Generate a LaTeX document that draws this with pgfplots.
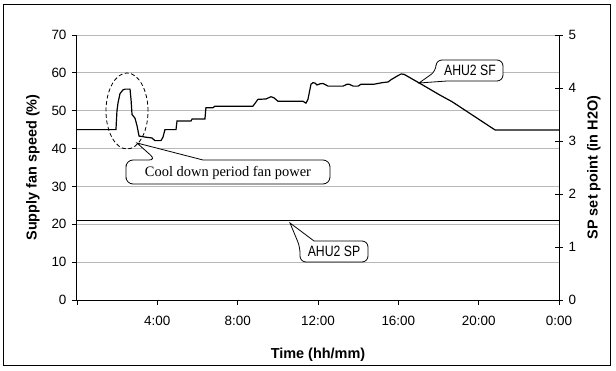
\documentclass[border=0pt]{standalone}
\usepackage{pgfplots}
\pgfplotsset{compat=1.18}
\usepackage{graphicx}
\usepackage{fontspec}
\setmainfont{Liberation Sans}
\newfontfamily\calloutserif{Liberation Serif}

% supply fan speed of AHU2 over one day (hours, %)
\pgfplotstableread{
t     sf
0.00  45.0
1.94  45.0
1.99  50.0
2.04  52.0
2.14  54.5
2.29  55.5
2.39  55.7
2.64  55.7
2.69  53.0
2.74  49.0
2.89  48.0
2.99  46.0
3.09  43.3
3.44  43.0
3.73  42.8
3.88  42.1
4.18  42.1
4.28  43.0
4.38  45.0
4.93  45.0
4.98  47.3
5.68  47.3
5.73  47.8
6.37  47.8
6.42  50.8
6.77  50.8
6.87  51.2
8.76  51.2
9.01  53.0
9.41  53.1
9.66  53.7
9.81  53.4
10.01 52.5
11.25 52.5
11.40 52.0
11.50 53.0
11.65 57.0
11.75 57.4
11.85 57.3
11.95 56.8
12.10 57.1
12.25 57.2
12.50 56.5
13.25 56.5
13.45 57.0
13.55 57.0
13.75 56.5
14.00 56.5
14.14 57.0
14.79 57.0
15.19 57.4
15.49 57.6
15.64 58.2
15.99 59.3
16.14 59.7
16.29 59.6
17.08 57.2
18.08 54.1
18.67 52.4
20.82 44.9
24.00 44.9
}\sfdata

% static pressure set point (hours, in H2O)
\pgfplotstableread{
t     sp
0     1.5
24    1.5
}\spdata

\begin{document}
\begin{tikzpicture}
\path[use as bounding box] (-77bp,-71bp) rectangle (539bp,300bp);

\begin{axis}[
  scale only axis, width=482bp, height=265bp,
  xmin=0, xmax=24, ymin=0, ymax=70,
  axis x line*=bottom, axis y line*=left,
  axis line style={line width=1bp, black},
  xtick={0,4,...,24},
  xticklabels={,4:00,8:00,12:00,16:00,20:00,0:00},
  ytick={0,10,...,70},
  ymajorgrids, grid style={black!28, line width=0.8bp},
  tick align=outside, major tick length=5bp,
  tick style={black, line width=0.8bp},
  /pgf/number format/assume math mode=true,
  tick label style={font=\fontsize{13.5}{15}\selectfont},
  xticklabel style={yshift=-8bp},
  yticklabel style={xshift=-2bp},
  xlabel={Time (hh/mm)},
  ylabel={Supply fan speed (\%)},
  every axis x label/.style={at={(axis description cs:0.5,-0.2075)}, anchor=center,
    font=\bfseries\fontsize{14.5}{16}\selectfont},
  every axis y label/.style={at={(axis description cs:-0.0913,0.5)}, rotate=90, anchor=center,
    font=\bfseries\fontsize{14.5}{16}\selectfont},
]
\addplot[black, line width=1.2bp] table[x=t, y=sf] {\sfdata};
\end{axis}

\begin{axis}[
  scale only axis, width=482bp, height=265bp,
  xmin=0, xmax=24, ymin=0, ymax=5,
  axis x line=none, axis y line*=right,
  axis line style={line width=1bp, black},
  ytick={0,1,...,5},
  tick align=center, major tick length=8bp,
  tick style={black, line width=0.8bp},
  /pgf/number format/assume math mode=true,
  tick label style={font=\fontsize{13.5}{15}\selectfont},
  yticklabel style={xshift=2bp},
  ylabel={SP set point (in H2O)},
  every axis y label/.style={at={(axis description cs:1.0726,0.5)}, rotate=90, anchor=center,
    font=\bfseries\fontsize{14.5}{16}\selectfont},
]
\addplot[black, line width=1.2bp] table[x=t, y=sp] {\spdata};
\end{axis}

% callouts and outer frame
\begin{scope}[x=1bp, y=-1bp, shift={(-77bp,300bp)}, line width=0.8bp]
  \draw[dash pattern=on 4bp off 2.5bp] (127,111) ellipse [x radius=21bp, y radius=38bp];
  \draw[fill=white] (126,172) [rounded corners=7bp] -- (126,160) -- (156,160)
      [sharp corners] -- (137,143) -- (203,160)
      [rounded corners=7bp] -- (330,160) -- (330,184) -- (126,184) -- cycle;
  \node[font=\calloutserif\fontsize{14.5}{16}\selectfont] at (228,172.5) {Cool down period fan power};

  \draw[fill=white] (436,71) [sharp corners] -- (419,83) -- (447,81)
      [rounded corners=6bp] -- (503,81) -- (503,60) -- (436,60) -- cycle;
  \node[font=\fontsize{15}{17}\selectfont] at (470,70.5) {\scalebox{0.82}[1]{AHU2 SF}};

  \draw[fill=white] (300,247) [sharp corners] -- (290,223) -- (314,241)
      [rounded corners=6bp] -- (368,241) -- (368,262) -- (300,262) -- cycle;
  \node[font=\fontsize{15}{17}\selectfont] at (334,251.5) {\scalebox{0.82}[1]{AHU2 SP}};

  \draw[line width=1bp] (4,5) rectangle (611,366);
\end{scope}
\end{tikzpicture}
\end{document}
